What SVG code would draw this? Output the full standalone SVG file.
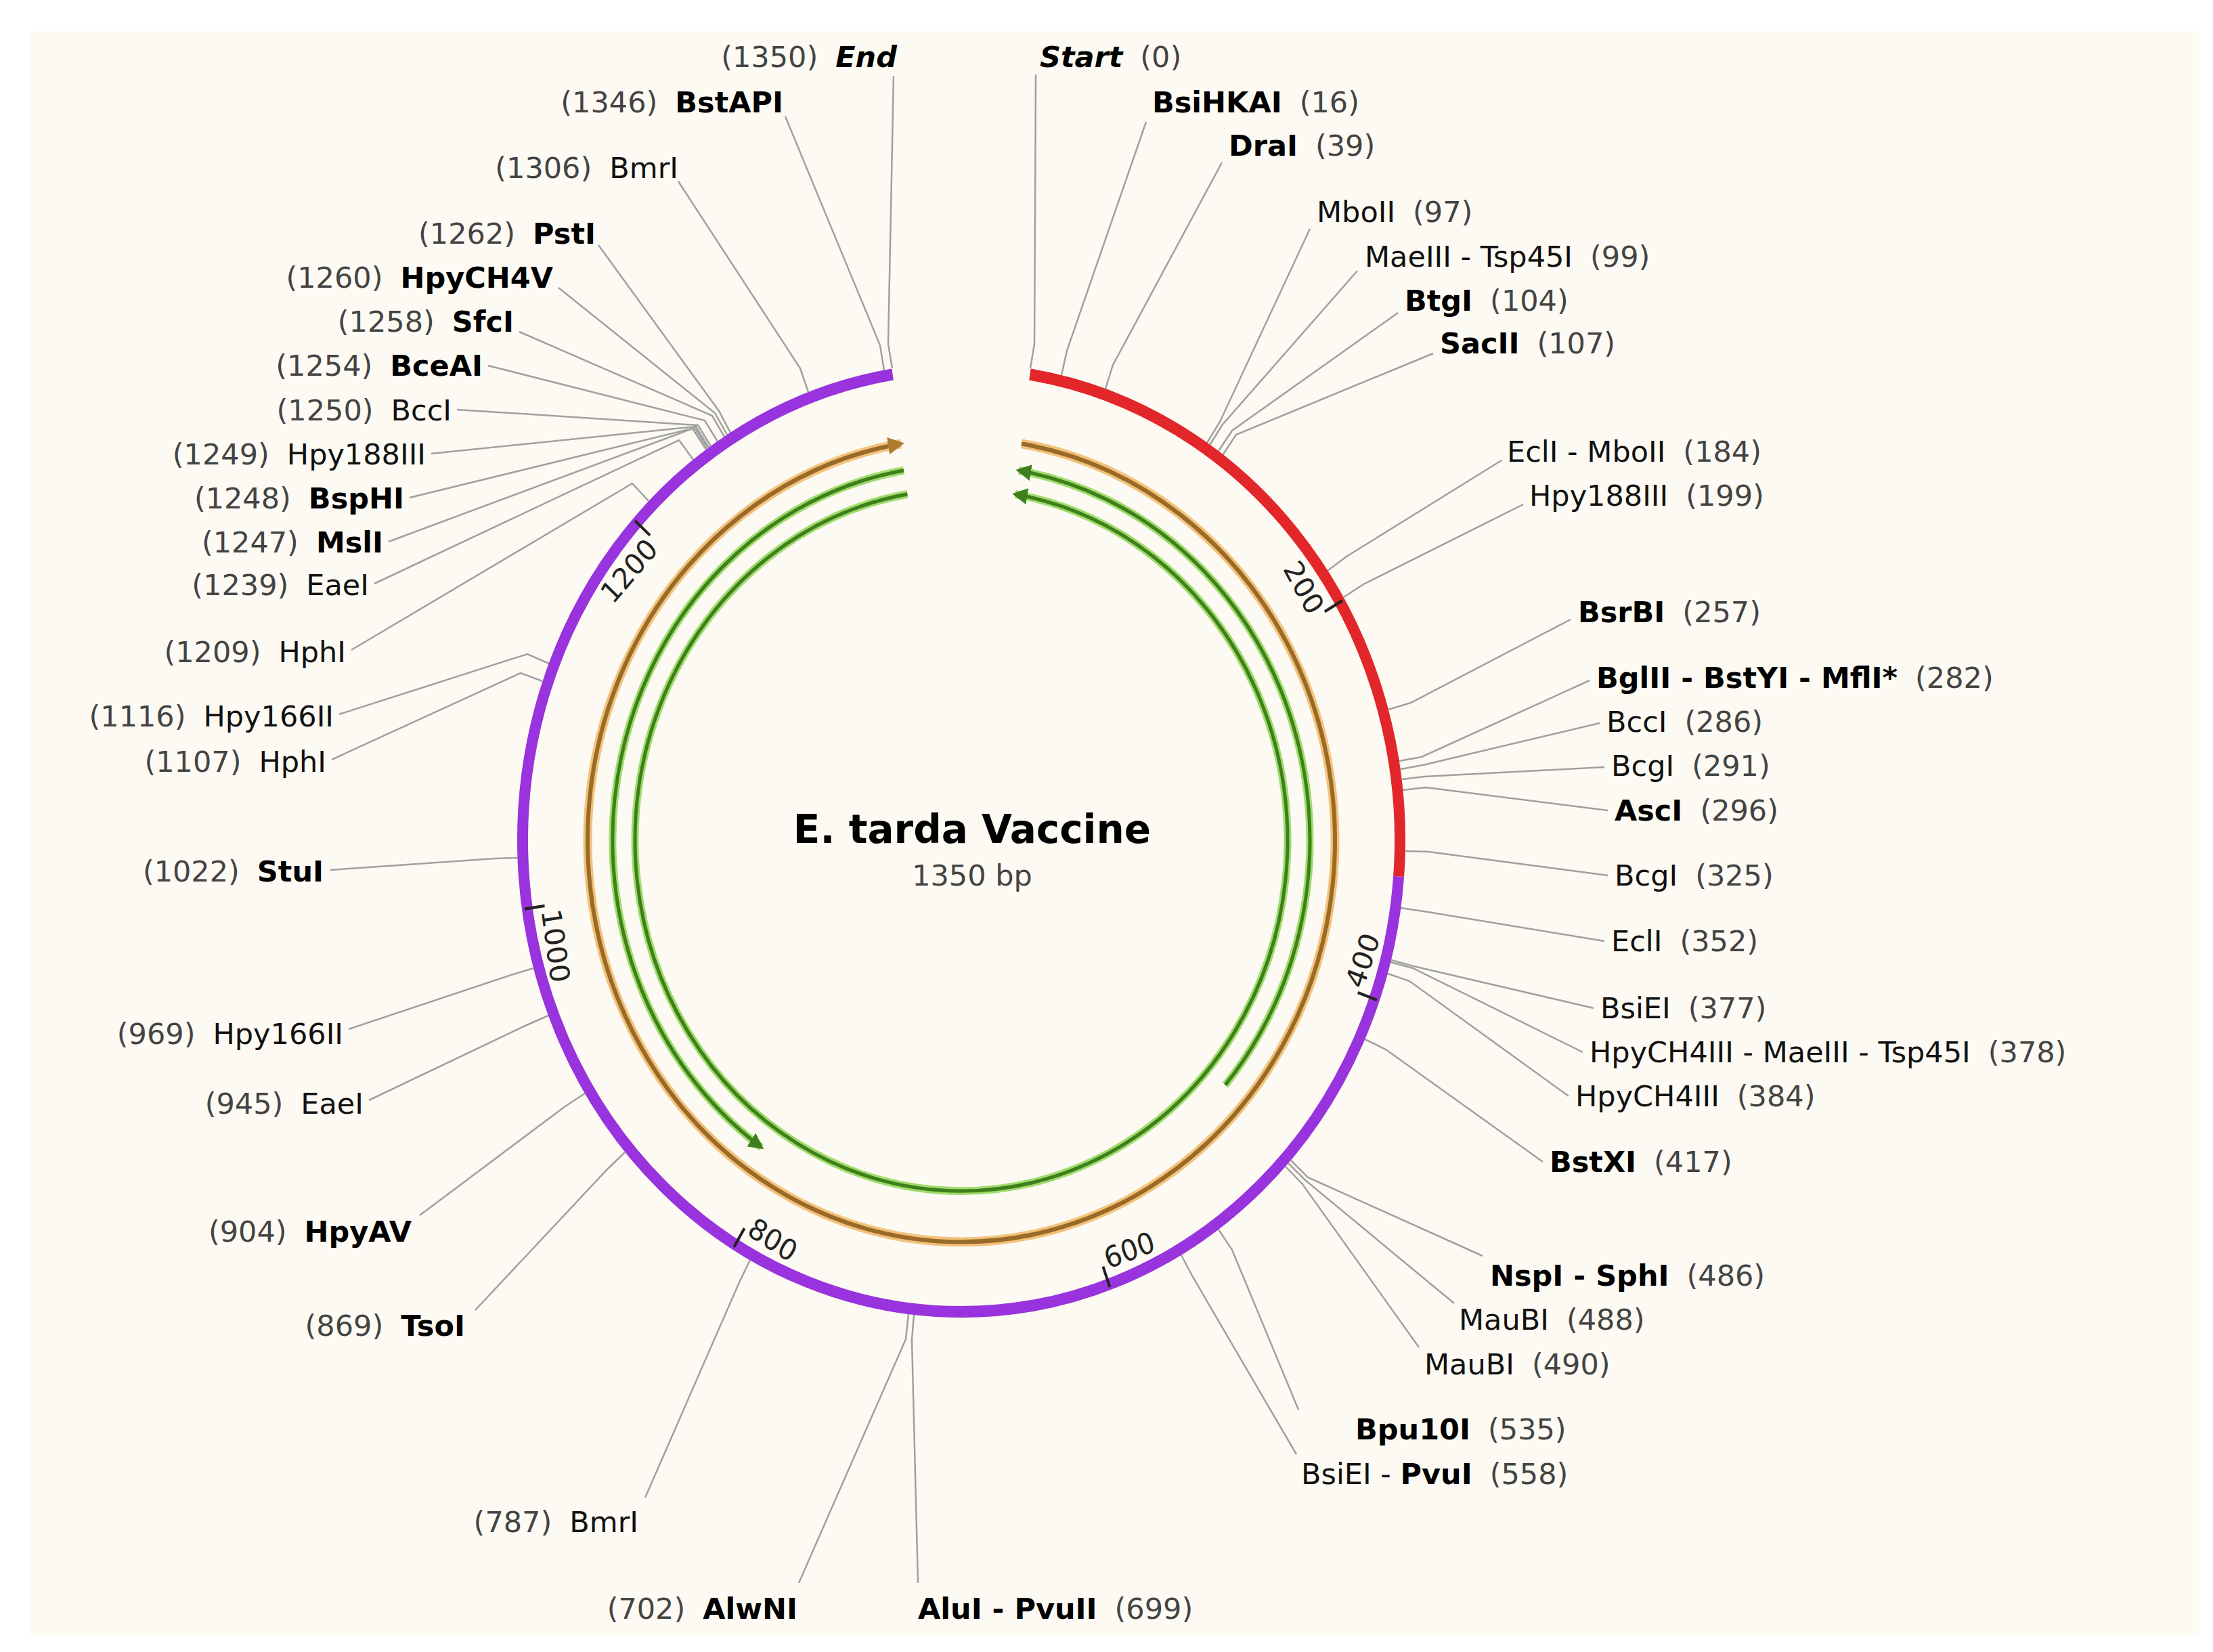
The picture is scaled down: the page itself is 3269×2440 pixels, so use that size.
<svg xmlns="http://www.w3.org/2000/svg" width="3269" height="2440" viewBox="0 0 3269 2440">
<style>
text{font-family:"DejaVu Sans","Liberation Sans",sans-serif;font-size:43px;fill:#111}
.n{fill:#444;font-weight:normal}
.b{font-weight:bold;fill:#000}
.bi{font-weight:bold;font-style:italic;fill:#000}
.tk{font-size:40px;fill:#222}
#conn polyline{fill:none;stroke:#a0a0a0;stroke-width:2.5}
</style>
<defs>
<marker id="ao" viewBox="0 0 10 10" refX="8" refY="5" markerWidth="4" markerHeight="4" orient="auto"><path d="M0,0 L10,5 L0,10 z" fill="#b07a30"/></marker>
<marker id="ag" viewBox="0 0 10 10" refX="8" refY="5" markerWidth="4.5" markerHeight="4.5" orient="auto"><path d="M0,0 L10,5 L0,10 z" fill="#3f7f1c"/></marker>
</defs>
<rect width="3269" height="2440" fill="#fff"/>
<rect x="46" y="46" width="3203" height="2370" fill="#fcfaf2"/>
<g id="conn">
<polyline points="1530,110 1528,508 1522,544"/>
<polyline points="1693,180 1576,518 1568,554"/>
<polyline points="1805,240 1644,539 1633,574"/>
<polyline points="1935,338 1802,623 1783,654"/>
<polyline points="2005,400 1806,627 1787,657"/>
<polyline points="2065,462 1820,636 1800,666"/>
<polyline points="2117,522 1826,642 1806,672"/>
<polyline points="2218,680 1989,822 1961,843"/>
<polyline points="2250,745 2014,863 1985,882"/>
<polyline points="2320,915 2084,1038 2051,1048"/>
<polyline points="2348,1005 2100,1118 2067,1124"/>
<polyline points="2363,1068 2102,1130 2069,1136"/>
<polyline points="2370,1133 2104,1147 2071,1151"/>
<polyline points="2375,1197 2106,1163 2072,1167"/>
<polyline points="2375,1293 2110,1258 2076,1257"/>
<polyline points="2370,1390 2103,1346 2069,1341"/>
<polyline points="2354,1489 2088,1427 2055,1418"/>
<polyline points="2338,1554 2087,1430 2054,1421"/>
<polyline points="2317,1619 2082,1449 2050,1438"/>
<polyline points="2279,1716 2047,1550 2016,1535"/>
<polyline points="2190,1855 1932,1739 1907,1714"/>
<polyline points="2148,1925 1928,1743 1903,1718"/>
<polyline points="2096,1990 1924,1749 1899,1723"/>
<polyline points="1918,2082 1820,1846 1800,1816"/>
<polyline points="1915,2148 1762,1886 1745,1854"/>
<polyline points="1356,2338 1347,1979 1350,1942"/>
<polyline points="1180,2338 1338,1978 1342,1941"/>
<polyline points="953,2212 1092,1894 1108,1861"/>
<polyline points="702,1935 898,1726 923,1702"/>
<polyline points="620,1795 835,1634 864,1615"/>
<polyline points="545,1625 778,1514 810,1500"/>
<polyline points="515,1520 755,1440 788,1430"/>
<polyline points="488,1285 731,1268 765,1267"/>
<polyline points="490,1122 769,994 801,1006"/>
<polyline points="501,1055 779,966 811,980"/>
<polyline points="519,960 934,714 958,740"/>
<polyline points="553,862 1003,650 1024,679"/>
<polyline points="574,800 1023,633 1043,664"/>
<polyline points="605,735 1026,632 1045,662"/>
<polyline points="637,670 1028,630 1047,661"/>
<polyline points="675,605 1031,628 1050,659"/>
<polyline points="721,540 1041,621 1060,652"/>
<polyline points="767,490 1052,614 1070,645"/>
<polyline points="825,425 1056,610 1074,642"/>
<polyline points="884,362 1062,607 1079,639"/>
<polyline points="1002,268 1182,544 1194,579"/>
<polyline points="1160,172 1300,510 1306,547"/>
<polyline points="1320,112 1312,508 1318,544"/>
</g>
<g id="map" transform="translate(1420 1241) scale(1 1.075)">
<path d="M646.1,49.7 A648,648 0 1 1 -101.4,-640" fill="none" stroke="#9933dd" stroke-width="16"/>
<path d="M101.4,-640 A648,648 0 0 1 646.1,49.7" fill="none" stroke="#e3262a" stroke-width="16"/>
<path d="M89,-544.8 A552,552 0 1 1 -89,-544.8" fill="none" stroke="#f3c27a" stroke-width="13"/>
<path d="M89,-544.8 A552,552 0 1 1 -89,-544.8" fill="none" stroke="#9a6a28" stroke-width="6" marker-end="url(#ao)"/>
<path d="M390,336.3 A515,515 0 0 0 85,-508" fill="none" stroke="#9fdc6c" stroke-width="11"/>
<path d="M390,336.3 A515,515 0 0 0 85,-508" fill="none" stroke="#3f7f1c" stroke-width="5" marker-end="url(#ag)"/>
<path d="M-85,-508 A515,515 0 0 0 -295.4,421.9" fill="none" stroke="#9fdc6c" stroke-width="11"/>
<path d="M-85,-508 A515,515 0 0 0 -295.4,421.9" fill="none" stroke="#3f7f1c" stroke-width="5" marker-end="url(#ag)"/>
<path d="M-79.6,-475.4 A482,482 0 1 0 79.6,-475.4" fill="none" stroke="#9fdc6c" stroke-width="11"/>
<path d="M-79.6,-475.4 A482,482 0 1 0 79.6,-475.4" fill="none" stroke="#3f7f1c" stroke-width="5" marker-end="url(#ag)"/>
<g stroke="#222" stroke-width="4">
<line x1="0" y1="-622" x2="0" y2="-652" transform="rotate(59.67)"/>
<line x1="0" y1="-622" x2="0" y2="-652" transform="rotate(109.67)"/>
<line x1="0" y1="-622" x2="0" y2="-652" transform="rotate(160.33)"/>
<line x1="0" y1="-622" x2="0" y2="-652" transform="rotate(211)"/>
<line x1="0" y1="-622" x2="0" y2="-652" transform="rotate(261.67)"/>
<line x1="0" y1="-622" x2="0" y2="-652" transform="rotate(312.33)"/>
</g>
<text class="tk" text-anchor="end" transform="rotate(59.67) translate(-6,-598)">200</text>
<text class="tk" text-anchor="end" transform="rotate(312.33) translate(-6,-598)">1200</text>
<text class="tk" transform="rotate(109.67) translate(0,-628) rotate(180) translate(6,0)">400</text>
<text class="tk" transform="rotate(160.33) translate(0,-628) rotate(180) translate(6,0)">600</text>
<text class="tk" transform="rotate(211) translate(0,-628) rotate(180) translate(6,0)">800</text>
<text class="tk" transform="rotate(261.67) translate(0,-628) rotate(180) translate(6,0)">1000</text>
</g>
<g id="title">
<text x="1436" y="1245" text-anchor="middle" style="font-size:58px;font-weight:bold;fill:#000">E. tarda Vaccine</text>
<text x="1436" y="1308" text-anchor="middle" style="font-size:43px;fill:#444">1350 bp</text>
</g>
<g id="labels-left" text-anchor="end">
<text x="1325" y="99"><tspan class="n">(1350)</tspan><tspan dx="26" class="bi">End</tspan></text>
<text x="1157" y="166"><tspan class="n">(1346)</tspan><tspan dx="26" class="b">BstAPI</tspan></text>
<text x="1002" y="263"><tspan class="n">(1306)</tspan><tspan dx="26">BmrI</tspan></text>
<text x="880" y="360"><tspan class="n">(1262)</tspan><tspan dx="26" class="b">PstI</tspan></text>
<text x="817" y="425"><tspan class="n">(1260)</tspan><tspan dx="26" class="b">HpyCH4V</tspan></text>
<text x="759" y="490"><tspan class="n">(1258)</tspan><tspan dx="26" class="b">SfcI</tspan></text>
<text x="713" y="555"><tspan class="n">(1254)</tspan><tspan dx="26" class="b">BceAI</tspan></text>
<text x="667" y="621"><tspan class="n">(1250)</tspan><tspan dx="26">BccI</tspan></text>
<text x="629" y="686"><tspan class="n">(1249)</tspan><tspan dx="26">Hpy188III</tspan></text>
<text x="597" y="751"><tspan class="n">(1248)</tspan><tspan dx="26" class="b">BspHI</tspan></text>
<text x="566" y="816"><tspan class="n">(1247)</tspan><tspan dx="26" class="b">MslI</tspan></text>
<text x="545" y="879"><tspan class="n">(1239)</tspan><tspan dx="26">EaeI</tspan></text>
<text x="511" y="978"><tspan class="n">(1209)</tspan><tspan dx="26">HphI</tspan></text>
<text x="493" y="1073"><tspan class="n">(1116)</tspan><tspan dx="26">Hpy166II</tspan></text>
<text x="482" y="1140"><tspan class="n">(1107)</tspan><tspan dx="26">HphI</tspan></text>
<text x="478" y="1302"><tspan class="n">(1022)</tspan><tspan dx="26" class="b">StuI</tspan></text>
<text x="507" y="1542"><tspan class="n">(969)</tspan><tspan dx="26">Hpy166II</tspan></text>
<text x="537" y="1645"><tspan class="n">(945)</tspan><tspan dx="26">EaeI</tspan></text>
<text x="608" y="1834"><tspan class="n">(904)</tspan><tspan dx="26" class="b">HpyAV</tspan></text>
<text x="687" y="1973"><tspan class="n">(869)</tspan><tspan dx="26" class="b">TsoI</tspan></text>
<text x="943" y="2263"><tspan class="n">(787)</tspan><tspan dx="26">BmrI</tspan></text>
<text x="1178" y="2391"><tspan class="n">(702)</tspan><tspan dx="26" class="b">AlwNI</tspan></text>
</g>
<g id="labels-right">
<text x="1536" y="99"><tspan class="bi">Start</tspan><tspan dx="26" class="n">(0)</tspan></text>
<text x="1702" y="166"><tspan class="b">BsiHKAI</tspan><tspan dx="26" class="n">(16)</tspan></text>
<text x="1815" y="230"><tspan class="b">DraI</tspan><tspan dx="26" class="n">(39)</tspan></text>
<text x="1945" y="328">MboII<tspan dx="26" class="n">(97)</tspan></text>
<text x="2016" y="394">MaeIII - Tsp45I<tspan dx="26" class="n">(99)</tspan></text>
<text x="2075" y="459"><tspan class="b">BtgI</tspan><tspan dx="26" class="n">(104)</tspan></text>
<text x="2127" y="522"><tspan class="b">SacII</tspan><tspan dx="26" class="n">(107)</tspan></text>
<text x="2226" y="682">EclI - MboII<tspan dx="26" class="n">(184)</tspan></text>
<text x="2259" y="747">Hpy188III<tspan dx="26" class="n">(199)</tspan></text>
<text x="2331" y="919"><tspan class="b">BsrBI</tspan><tspan dx="26" class="n">(257)</tspan></text>
<text x="2358" y="1016"><tspan class="b">BglII - BstYI - MflI*</tspan><tspan dx="26" class="n">(282)</tspan></text>
<text x="2373" y="1081">BccI<tspan dx="26" class="n">(286)</tspan></text>
<text x="2380" y="1146">BcgI<tspan dx="26" class="n">(291)</tspan></text>
<text x="2385" y="1212"><tspan class="b">AscI</tspan><tspan dx="26" class="n">(296)</tspan></text>
<text x="2385" y="1308">BcgI<tspan dx="26" class="n">(325)</tspan></text>
<text x="2380" y="1405">EclI<tspan dx="26" class="n">(352)</tspan></text>
<text x="2364" y="1504">BsiEI<tspan dx="26" class="n">(377)</tspan></text>
<text x="2348" y="1569">HpyCH4III - MaeIII - Tsp45I<tspan dx="26" class="n">(378)</tspan></text>
<text x="2327" y="1634">HpyCH4III<tspan dx="26" class="n">(384)</tspan></text>
<text x="2289" y="1731"><tspan class="b">BstXI</tspan><tspan dx="26" class="n">(417)</tspan></text>
<text x="2201" y="1899"><tspan class="b">NspI - SphI</tspan><tspan dx="26" class="n">(486)</tspan></text>
<text x="2155" y="1964">MauBI<tspan dx="26" class="n">(488)</tspan></text>
<text x="2104" y="2030">MauBI<tspan dx="26" class="n">(490)</tspan></text>
<text x="2002" y="2126"><tspan class="b">Bpu10I</tspan><tspan dx="26" class="n">(535)</tspan></text>
<text x="1922" y="2192">BsiEI - <tspan class="b">PvuI</tspan><tspan dx="26" class="n">(558)</tspan></text>
<text x="1356" y="2391"><tspan class="b">AluI - PvuII</tspan><tspan dx="26" class="n">(699)</tspan></text>
</g>
</svg>
